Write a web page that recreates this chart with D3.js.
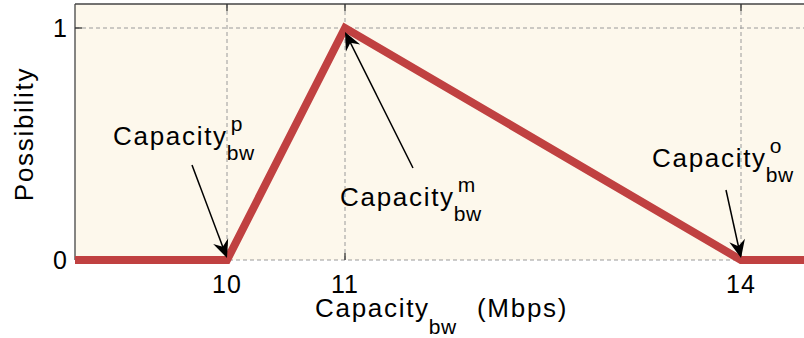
<!DOCTYPE html>
<html><head><meta charset="utf-8">
<script src="https://cdn.jsdelivr.net/npm/d3@7"></script>
<style>
html,body{margin:0;padding:0;background:#fff;}
svg{display:block;font-family:"Liberation Sans",Arial,Helvetica,sans-serif;}
</style></head>
<body><svg id="c" width="804" height="338"></svg>
<script>
// ---- data ----
const capacityX = [8.7, 10, 11, 14, 14.6];
const possibility = [0, 0, 1, 0, 0];
const xTicks = [10, 11, 14];
const yTicks = [0, 1];
const annotations = [
  {sup: "p", tipX: 10, tipY: 0},
  {sup: "m", tipX: 11, tipY: 1},
  {sup: "o", tipX: 14, tipY: 0}
];
const xTitle = ["Capacity", "bw", "(Mbps)"];
const yTitle = "Possibility";

(function () {
// ---- layout ----
const svg = d3.select("#c");
const leftX = 75, topY = 4, bottomY = 260, rightEdge = 820;
const x = d3.scaleLinear().domain([8.7, 10, 11, 14, 14.6]).range([leftX, 227, 345, 741, rightEdge]);
const y = d3.scaleLinear().domain([0, 1]).range([bottomY, 28]);

svg.append("rect").attr("x", leftX).attr("y", topY).attr("width", rightEdge - leftX).attr("height", bottomY - topY)
  .attr("fill", "#fdf8ec");

// grid
const gridStyle = s => s.attr("stroke", "#9a9a9a").attr("stroke-width", 1).attr("stroke-dasharray", "4,3");
svg.selectAll(".vg").data(xTicks).join("line").attr("class","vg")
  .attr("x1", d => x(d)).attr("x2", d => x(d)).attr("y1", topY).attr("y2", bottomY).call(gridStyle);
svg.selectAll(".hg").data(yTicks).join("line").attr("class","hg")
  .attr("x1", leftX).attr("x2", rightEdge).attr("y1", d => y(d)).attr("y2", d => y(d)).call(gridStyle);

// box lines
svg.append("line").attr("x1", leftX).attr("x2", rightEdge).attr("y1", topY).attr("y2", topY).attr("stroke", "#444").attr("stroke-width", 1.3);
svg.append("line").attr("x1", leftX).attr("x2", leftX).attr("y1", topY).attr("y2", bottomY).attr("stroke", "#444").attr("stroke-width", 1.3);

// ticks
const tl = 7;
svg.selectAll(".tt").data(xTicks).join("line").attr("class","tt")
  .attr("x1", d => x(d)).attr("x2", d => x(d)).attr("y1", topY).attr("y2", topY + tl).attr("stroke", "#333").attr("stroke-width", 1.3);
svg.selectAll(".bt").data(xTicks).join("line").attr("class","bt")
  .attr("x1", d => x(d)).attr("x2", d => x(d)).attr("y1", bottomY).attr("y2", bottomY - tl).attr("stroke", "#333").attr("stroke-width", 1.3);
svg.selectAll(".lt").data(yTicks).join("line").attr("class","lt")
  .attr("x1", leftX).attr("x2", leftX + tl).attr("y1", d => y(d)).attr("y2", d => y(d)).attr("stroke", "#333").attr("stroke-width", 1.3);

// the line
const pts = capacityX.map((v, i) => [v, possibility[i]]);
svg.append("path").datum(pts)
  .attr("d", d3.line().x(d => x(d[0])).y(d => y(d[1])))
  .attr("fill", "none").attr("stroke", "#c04141").attr("stroke-width", 8)
  .attr("stroke-linejoin", "miter").attr("stroke-miterlimit", 10);

// tick labels
svg.selectAll(".xl").data(xTicks).join("text").attr("class","xl")
  .attr("x", d => x(d)).attr("y", 293).attr("text-anchor", "middle")
  .attr("font-size", 25).attr("letter-spacing", 1).text(d => d);
svg.selectAll(".yl").data(yTicks).join("text").attr("class","yl")
  .attr("x", 67).attr("y", d => y(d) + 9).attr("text-anchor", "end")
  .attr("font-size", 25).text(d => d);

// rich text helper: main + sup/sub
function rich(x0, base, main, sup, sub, fs, fsSmall, ls) {
  const t = svg.append("text").attr("x", x0).attr("y", base).attr("font-size", fs)
    .attr("letter-spacing", ls).attr("fill", "#000").text(main);
  const w = t.node().getComputedTextLength();
  const sx = x0 + w - 1;
  if (sup) svg.append("text").attr("x", sx + 4).attr("y", base - 14).attr("font-size", fsSmall).text(sup);
  if (sub) svg.append("text").attr("x", sx).attr("y", base + 15).attr("font-size", fsSmall).attr("letter-spacing", 0.5).text(sub);
  return sx;
}

// axis titles
const endSub = rich(315, 317, xTitle[0], null, null, 26, 21, 1.7);
svg.append("text").attr("x", endSub).attr("y", 334).attr("font-size", 21).attr("letter-spacing", 0.5).text(xTitle[1]);
svg.append("text").attr("x", 477).attr("y", 317).attr("font-size", 26).attr("letter-spacing", 1.7).text(xTitle[2]);

svg.append("text").attr("transform", "translate(33,134) rotate(-90)").attr("text-anchor", "middle")
  .attr("font-size", 26).attr("letter-spacing", 1.7).text(yTitle);

// annotations
const labelPos = [
  {tx: 113, ty: 145, tail: [-35, -95], tipOff: [0, -2]},
  {tx: 340, ty: 206, tail: [68, 140], tipOff: [0, 4]},
  {tx: 652, ty: 167, tail: [-15, -70], tipOff: [0, -2]}
];
annotations.forEach((a, i) => {
  const p = labelPos[i];
  rich(p.tx, p.ty, "Capacity", a.sup, "bw", 26, 21, 1.7);
  const tipx = x(a.tipX) + p.tipOff[0], tipy = y(a.tipY) + p.tipOff[1];
  const tailx = x(a.tipX) + p.tail[0], taily = y(a.tipY) + p.tail[1];
  const ang = Math.atan2(tipy - taily, tipx - tailx);
  svg.append("line").attr("x1", tailx).attr("y1", taily)
    .attr("x2", tipx - 10 * Math.cos(ang)).attr("y2", tipy - 10 * Math.sin(ang))
    .attr("stroke", "#000").attr("stroke-width", 1.5);
  svg.append("path").attr("d", "M0,0 L-18,-8 L-12,0 L-18,8 Z")
    .attr("transform", `translate(${tipx},${tipy}) rotate(${ang * 180 / Math.PI})`).attr("fill", "#000");
});
})();
</script></body></html>
